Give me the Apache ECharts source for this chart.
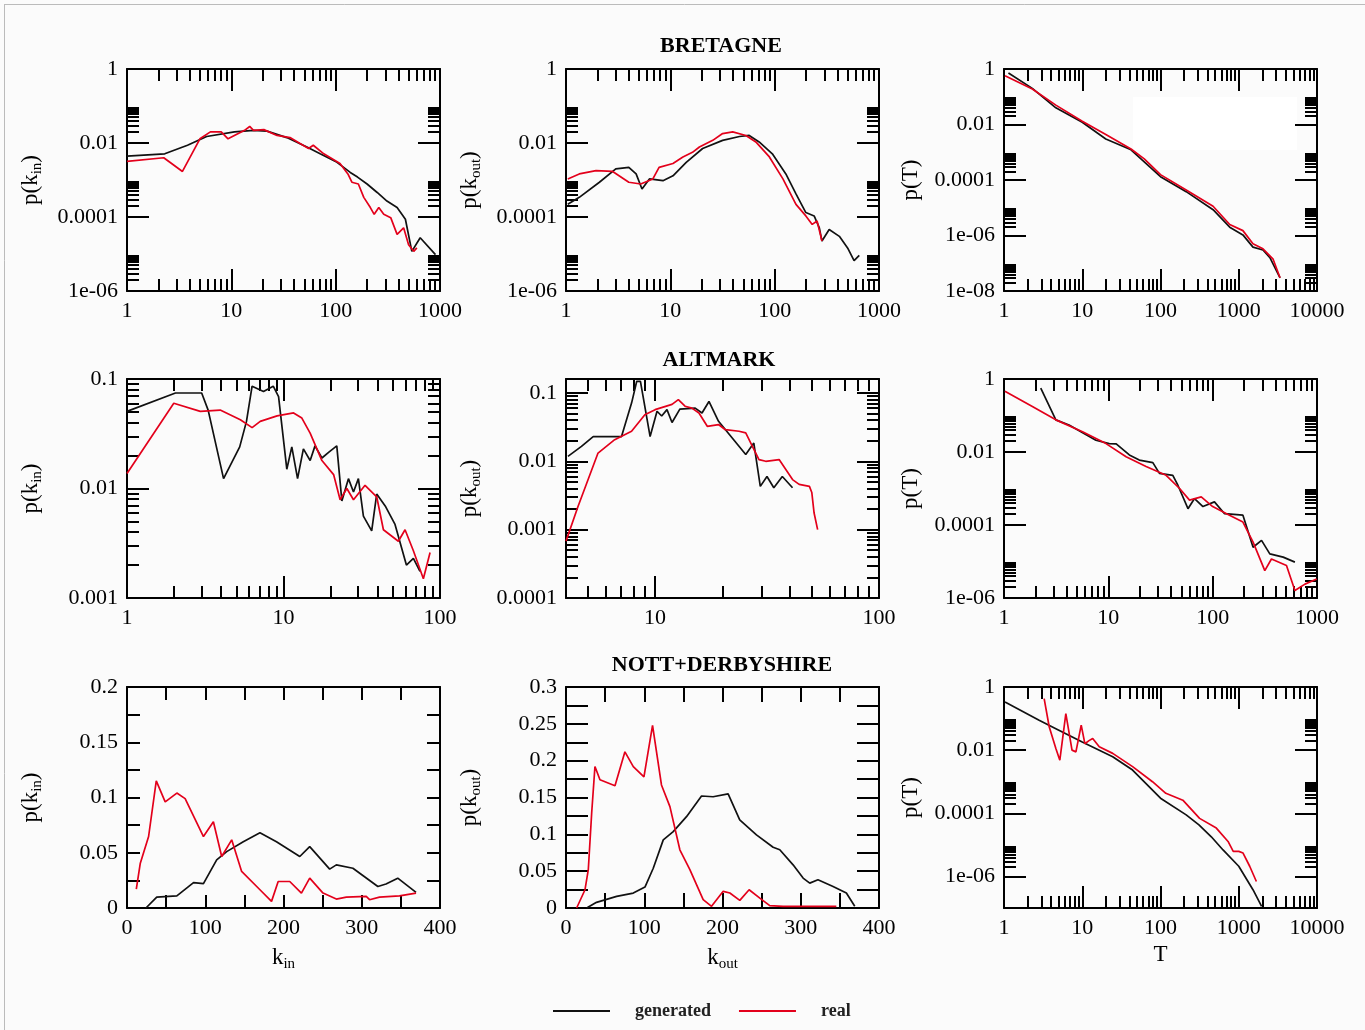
<!DOCTYPE html>
<html>
<head>
<meta charset="utf-8">
<script src="https://cdn.jsdelivr.net/npm/echarts@6/dist/echarts.min.js"></script>
<style>
html, body { margin: 0; padding: 0; background: #fbfbfb; }
#main { width: 1365px; height: 1030px; }
</style>
</head>
<body>
<div id="main"></div>
<script>
(function () {

    "use strict";

    var FONT = '"Liberation Serif", "DejaVu Serif", serif';
    var BLACK = '#111111', RED = '#e3001b';

    // ---- BRETAGNE ----
    var bretKinGen = [[1,0.0044],[2.3,0.0051],[3.8,0.0087],[5.8,0.015],[10.7,0.020],[16.3,0.022],[22,0.021],[34,0.014],[53,0.0078],[71,0.0051],[103,0.0030],[138,0.0016],[162,0.0012],[200,0.00078],[250,0.00046],[310,0.00027],[388,0.00018],[466,0.000087],[537,0.0000118],[646,0.0000275],[905,0.0000096]];
    var bretKinReal = [[1,0.0032],[2.25,0.0040],[3.4,0.0017],[5.0,0.013],[6.3,0.020],[8.0,0.020],[9.3,0.013],[13.4,0.022],[15,0.028],[16.3,0.022],[20.5,0.023],[27.4,0.016],[36.5,0.014],[46,0.0096],[55,0.0071],[61,0.0087],[77,0.0051],[110,0.0028],[131,0.00146],[143,0.00087],[165,0.00078],[186,0.00034],[215,0.00018],[234,0.000118],[259,0.00018],[289,0.000118],[337,0.000096],[388,0.000034],[448,0.000051],[500,0.0000178],[560,0.0000118],[600,0.0000146]];
    var bretKoutGen = [[1.04,0.00022],[1.34,0.00034],[2.09,0.00087],[3.0,0.0020],[4.0,0.0022],[4.7,0.00146],[5.35,0.00057],[6.3,0.00107],[8.5,0.00096],[10.6,0.0013],[14.2,0.0030],[20.4,0.0071],[31.7,0.0118],[46,0.015],[57,0.016],[71,0.0107],[95,0.0051],[128,0.00146],[160,0.00042],[199,0.000132],[239,0.000107],[268,0.000051],[284,0.0000224],[333,0.0000458],[417,0.000030],[500,0.0000146],[577,0.0000066],[647,0.0000092]];
    var bretKoutReal = [[1.04,0.00107],[1.34,0.00146],[1.94,0.0018],[2.8,0.0017],[4.0,0.00087],[5.2,0.00078],[6.8,0.00107],[7.8,0.0022],[10.6,0.0028],[13.2,0.0042],[16.3,0.0056],[19,0.0078],[25.5,0.0118],[31.7,0.018],[39.6,0.020],[53,0.016],[66,0.0107],[89,0.0042],[120,0.00107],[160,0.00022],[199,0.000107],[229,0.000063],[255,0.000078],[284,0.0000224]];
    var bretTGen = [[1.14,0.72],[2.3,0.20],[4.6,0.04],[10,0.012],[20,0.0030],[42,0.00123],[100,0.000132],[213,0.000038],[470,0.0000085],[767,0.000002],[1130,0.00000105],[1520,0.00000038],[2040,0.0000003],[2500,0.00000016],[3370,0.00000003]];
    var bretTReal = [[1.03,0.57],[2.3,0.19],[4.6,0.05],[10,0.0132],[20,0.0044],[42,0.00131],[62,0.00058],[100,0.000156],[213,0.0000436],[470,0.0000113],[767,0.0000025],[1130,0.0000015],[1520,0.0000005],[2040,0.00000033],[2750,0.00000014],[3370,0.00000003]];

    // ---- ALTMARK ----
    var altKinGen = [[1,0.0506],[2.04,0.0745],[3.0,0.0745],[3.3,0.052],[4.14,0.0123],[5.25,0.024],[5.8,0.041],[6.3,0.086],[7.45,0.077],[8.6,0.086],[9.3,0.069],[10.5,0.015],[11.3,0.024],[12.3,0.0123],[13.4,0.023],[14.8,0.018],[15.9,0.0245],[17.6,0.019],[19.5,0.0215],[21.9,0.0245],[23.6,0.0077],[26,0.0123],[28,0.0093],[30.1,0.0123],[32.4,0.0056],[36.6,0.0041],[39.4,0.0089],[45,0.0068],[51.6,0.0047],[61,0.0020],[67.6,0.0023],[74.5,0.00175]];
    var altKinReal = [[1,0.0137],[1.99,0.060],[2.94,0.0506],[3.94,0.052],[5.3,0.0425],[6.3,0.036],[7.1,0.041],[9.1,0.046],[11.6,0.049],[13.1,0.044],[14.8,0.032],[17.6,0.018],[20.9,0.0134],[23,0.0079],[25.4,0.010],[28,0.0079],[33.2,0.0107],[39.4,0.0084],[43.5,0.0042],[54.2,0.0033],[59.8,0.0042],[67.6,0.0027],[78.3,0.0015],[86.4,0.0026]];
    var altKoutGen = [[4.08,0.0118],[4.69,0.0165],[5.29,0.023],[7.08,0.023],[7.85,0.071],[8.28,0.148],[8.6,0.148],[9.5,0.023],[10.2,0.054],[10.7,0.046],[11.3,0.057],[11.9,0.037],[12.9,0.058],[15.1,0.060],[16.2,0.051],[17.4,0.075],[19.2,0.0385],[25.4,0.0126],[27.6,0.0185],[29.5,0.0043],[31.6,0.0060],[33.9,0.0041],[37,0.0060],[41.1,0.0041]];
    var altKoutReal = [[4.0,0.00068],[4.53,0.0022],[5.56,0.0132],[6.6,0.0207],[7.85,0.0275],[9.0,0.048],[10,0.057],[11.9,0.068],[12.7,0.080],[13.6,0.064],[14.6,0.060],[15.7,0.051],[17.1,0.0325],[19.2,0.0345],[20.6,0.029],[23.7,0.0275],[25.4,0.026],[27.2,0.0166],[29.1,0.0106],[31.2,0.0100],[35.8,0.0106],[41.1,0.0054],[44,0.0046],[48.9,0.0043],[50.1,0.0035],[51.3,0.00175],[53.2,0.001]];
    var altTGen = [[2.25,0.565],[3.14,0.076],[4.2,0.055],[5.46,0.036],[7.6,0.021],[10.2,0.017],[11.9,0.0166],[15.9,0.0083],[19.8,0.0060],[26.7,0.0051],[30.9,0.0026],[41.5,0.0023],[46.4,0.00123],[58,0.00028],[67,0.00053],[80.7,0.00032],[104,0.00043],[130,0.000204],[195,0.000186],[244,0.0000246],[294,0.000038],[353,0.0000162],[474,0.0000132],[614,0.0000096]];
    var altTReal = [[1.02,0.46],[1.87,0.177],[3.14,0.076],[5.66,0.036],[9.5,0.017],[14.8,0.0074],[23,0.0040],[35.8,0.0023],[48.2,0.001],[60,0.00048],[77.7,0.00059],[100,0.00032],[145,0.000186],[195,0.00012],[244,0.000034],[316,0.0000056],[366,0.0000117],[510,0.0000078],[614,0.0000016],[767,0.0000024],[993,0.0000033]];

    // ---- NOTT+DERBYSHIRE ----
    var nottKinGen = [[24.2,0],[38,0.0099],[63.7,0.011],[85,0.023],[97.7,0.022],[114.6,0.0436],[127.4,0.051],[148.6,0.060],[169.9,0.068],[191,0.060],[220.8,0.0466],[233.5,0.0556],[259,0.0352],[267.5,0.039],[288.7,0.036],[320.6,0.0195],[331,0.0217],[346,0.027],[369.4,0.0141]];
    var nottKinReal = [[11.9,0.0171],[17,0.0406],[27.6,0.0647],[37.4,0.115],[48.8,0.096],[63.7,0.104],[74.3,0.099],[97.7,0.0647],[110.4,0.078],[121,0.0466],[133.8,0.0617],[146.5,0.0331],[169.9,0.0165],[184.7,0.006],[193.2,0.024],[208,0.024],[222.9,0.0135],[233.5,0.027],[250.5,0.0135],[267.5,0.0081],[280.3,0.0099],[305.7,0.0105],[310,0.0075],[322.7,0.0099],[348.2,0.011],[369.4,0.0135]];
    var nottKoutGen = [[26.4,0],[39,0.0077],[64.7,0.0158],[86,0.0203],[100.9,0.0284],[111.5,0.054],[124.3,0.0925],[137,0.1037],[154,0.124],[173.2,0.152],[188,0.151],[207.2,0.155],[222,0.1195],[243.4,0.0992],[264.7,0.0825],[273.2,0.079],[290.2,0.0586],[303,0.0406],[311.5,0.0338],[322,0.0383],[341.3,0.0293],[358.3,0.0203],[369,0.0023]];
    var nottKoutReal = [[13.6,0],[24.3,0.0248],[28.5,0.052],[32.8,0.1286],[37,0.192],[43.4,0.174],[62.6,0.166],[75.3,0.212],[86,0.192],[99.6,0.178],[110.6,0.248],[122,0.167],[132.8,0.1376],[145.5,0.079],[158.3,0.052],[175.3,0.0113],[186,0.0023],[200.9,0.0226],[209.4,0.0203],[222.1,0.0104],[234,0.0248],[247.7,0.0135],[260.4,0.0032],[277.4,0.0023],[345.5,0.0023]];
    var nottTGen = [[1.03,0.336],[2.81,0.089],[4.6,0.048],[10,0.018],[24.5,0.0062],[44,0.00234],[100,0.0003],[213,0.000089],[310,0.0000427],[446,0.000018],[630,0.0000069],[1000,0.0000021],[1520,0.00000038],[1960,0.000000112]];
    var nottTReal = [[3.26,0.43],[3.78,0.055],[4.6,0.0113],[5.17,0.0048],[6.17,0.144],[7.4,0.010],[8.3,0.0088],[9.7,0.062],[10.8,0.016],[12.2,0.02],[13.6,0.0234],[16.5,0.0128],[24.5,0.0079],[44,0.0030],[79,0.001],[117,0.00043],[193,0.00026],[316,0.000069],[517,0.000034],[730,0.0000128],[850,0.0000062],[1000,0.0000062],[1135,0.0000055],[1380,0.0000021],[1680,0.00000069]];

    // ---- tick labels ----
    var xK3 = [1, 10, 100, 1000], xK3Text = ['1', '10', '100', '1000'];
    var xT4 = [1, 10, 100, 1000, 10000], xT4Text = ['1', '10', '100', '1000', '10000'];
    var xK2 = [1, 10, 100], xK2Text = ['1', '10', '100'];
    var xKout2 = [10, 100], xKout2Text = ['10', '100'];
    var yP6 = [1e-6, 1e-4, 0.01, 1], yP6Text = ['1e-06', '0.0001', '0.01', '1'];
    var yP8 = [1e-8, 1e-6, 1e-4, 0.01, 1], yP8Text = ['1e-08', '1e-06', '0.0001', '0.01', '1'];
    var yAltIn = [0.001, 0.01, 0.1], yAltInText = ['0.001', '0.01', '0.1'];
    var yAltOut = [0.0001, 0.001, 0.01, 0.1], yAltOutText = ['0.0001', '0.001', '0.01', '0.1'];
    var xLin = [0, 100, 200, 300, 400], xLinText = ['0', '100', '200', '300', '400'];
    var xLinTicks = [0, 50, 100, 150, 200, 250, 300, 350, 400];
    var yLin2 = [0, 0.05, 0.1, 0.15, 0.2], yLin2Text = ['0', '0.05', '0.1', '0.15', '0.2'];
    var yLin2Ticks = [0, 0.025, 0.05, 0.075, 0.1, 0.125, 0.15, 0.175, 0.2];
    var yLin3 = [0, 0.05, 0.1, 0.15, 0.2, 0.25, 0.3], yLin3Text = ['0', '0.05', '0.1', '0.15', '0.2', '0.25', '0.3'];
    var yLin3Ticks = [0, 0.025, 0.05, 0.075, 0.1, 0.125, 0.15, 0.175, 0.2, 0.225, 0.25, 0.275, 0.3];

    // minor log ticks 2..9 times each given decade
    function logMinor(decades) {
        var out = [];
        decades.forEach(function (d) {
            for (var k = 2; k <= 9; k++) out.push(+(k * d).toPrecision(4));
        });
        return out;
    }

    function fmt(vals, texts) {
        return function (v) {
            var best = 0, bd = Infinity;
            for (var i = 0; i < vals.length; i++) {
                var d = Math.abs(v - vals[i]) / Math.max(Math.abs(vals[i]), 1e-12);
                if (d < bd) { bd = d; best = i; }
            }
            return texts[best];
        };
    }

    var COL = [127, 566, 1004], ROW = [69, 379, 687];
    var W = 313, H = [222, 219, 221];

    var panels = [
        { c: 0, r: 0, yName: 'p(k{s|in})',
          x: { type: 'log', min: 1, max: 1000, labels: xK3, texts: xK3Text, minor: logMinor([1, 10, 100]) },
          y: { type: 'log', min: 1e-6, max: 1, labels: yP6, texts: yP6Text, minor: logMinor([1e-6, 1e-4, 1e-2]) },
          gen: bretKinGen, real: bretKinReal },
        { c: 1, r: 0, yName: 'p(k{s|out})',
          x: { type: 'log', min: 1, max: 1000, labels: xK3, texts: xK3Text, minor: logMinor([1, 10, 100]) },
          y: { type: 'log', min: 1e-6, max: 1, labels: yP6, texts: yP6Text, minor: logMinor([1e-6, 1e-4, 1e-2]) },
          gen: bretKoutGen, real: bretKoutReal },
        { c: 2, r: 0, yName: 'p(T)',
          x: { type: 'log', min: 1, max: 10000, labels: xT4, texts: xT4Text, minor: logMinor([1, 10, 100, 1000]) },
          y: { type: 'log', min: 1e-8, max: 1, labels: yP8, texts: yP8Text, minor: logMinor([1e-8, 1e-6, 1e-4, 1e-2]) },
          gen: bretTGen, real: bretTReal },
        { c: 0, r: 1, yName: 'p(k{s|in})',
          x: { type: 'log', min: 1, max: 100, labels: xK2, texts: xK2Text, minor: logMinor([1, 10]) },
          y: { type: 'log', min: 0.001, max: 0.1, labels: yAltIn, texts: yAltInText, minor: logMinor([0.001, 0.01]) },
          gen: altKinGen, real: altKinReal },
        { c: 1, r: 1, yName: 'p(k{s|out})',
          x: { type: 'log', min: 4, max: 100, labels: xKout2, texts: xKout2Text, minor: logMinor([1, 10]) },
          y: { type: 'log', min: 0.0001, max: 0.16, labels: yAltOut, texts: yAltOutText, minor: logMinor([0.0001, 0.001, 0.01]) },
          gen: altKoutGen, real: altKoutReal },
        { c: 2, r: 1, yName: 'p(T)',
          x: { type: 'log', min: 1, max: 1000, labels: xK3, texts: xK3Text, minor: logMinor([1, 10, 100]) },
          y: { type: 'log', min: 1e-6, max: 1, labels: yP6, texts: yP6Text, minor: logMinor([1e-6, 1e-4, 1e-2]) },
          gen: altTGen, real: altTReal },
        { c: 0, r: 2, yName: 'p(k{s|in})', xName: 'k{s|in}',
          x: { type: 'value', min: 0, max: 400, labels: xLin, texts: xLinText, ticks: xLinTicks, len: 13 },
          y: { type: 'value', min: 0, max: 0.2, labels: yLin2, texts: yLin2Text, ticks: yLin2Ticks, len: 13 },
          gen: nottKinGen, real: nottKinReal },
        { c: 1, r: 2, yName: 'p(k{s|out})', xName: 'k{s|out}',
          x: { type: 'value', min: 0, max: 400, labels: xLin, texts: xLinText, ticks: xLinTicks, len: 15 },
          y: { type: 'value', min: 0, max: 0.3, labels: yLin3, texts: yLin3Text, ticks: yLin3Ticks, len: 22 },
          gen: nottKoutGen, real: nottKoutReal },
        { c: 2, r: 2, yName: 'p(T)', xName: 'T',
          x: { type: 'log', min: 1, max: 10000, labels: xT4, texts: xT4Text, minor: logMinor([1, 10, 100, 1000]) },
          y: { type: 'log', min: 1e-7, max: 1, labels: yP6, texts: yP6Text, minor: logMinor([1e-6, 1e-4, 1e-2]) },
          gen: nottTGen, real: nottTReal }
    ];

    var nameStyle = {
        fontFamily: FONT, fontSize: 23, color: '#000',
        rich: { s: { fontFamily: FONT, fontSize: 15, color: '#000', padding: [14, 0, 0, 0], verticalAlign: 'bottom' } }
    };

    function mainAxis(a, gi, pos, withLabel, name, isY) {
        var o = {
            type: a.type, gridIndex: gi, position: pos, min: a.min, max: a.max,
            axisLine: { show: true, onZero: false, lineStyle: { color: '#000', width: 2 } },
            axisTick: { show: true, inside: true, length: a.len || 22, customValues: a.ticks || a.labels,
                lineStyle: { color: '#000', width: 2 } },
            axisLabel: { show: withLabel, customValues: a.labels, formatter: fmt(a.labels, a.texts),
                fontFamily: FONT, fontSize: 22, color: '#000', margin: 9 },
            splitLine: { show: false },
            minorTick: { show: false }
        };
        if (a.type === 'log') o.logBase = 10;
        if (name) {
            o.name = name;
            o.nameLocation = 'middle';
            o.nameTextStyle = nameStyle;
            if (isY) { o.nameRotate = 90; o.nameGap = 82; }
            else { o.nameGap = 35; }
        }
        return o;
    }

    function minorAxis(a, gi, pos) {
        var o = {
            type: a.type, gridIndex: gi, position: pos, min: a.min, max: a.max,
            axisLine: { show: false },
            axisTick: { show: !!a.minor, inside: true, length: 12, customValues: a.minor || [],
                lineStyle: { color: '#000', width: 2 } },
            axisLabel: { show: false },
            splitLine: { show: false }
        };
        if (a.type === 'log') o.logBase = 10;
        return o;
    }

    var grids = [], xAxes = [], yAxes = [], series = [];

    panels.forEach(function (p) {
        var rect = { left: COL[p.c], top: ROW[p.r], width: W, height: H[p.r], outerBoundsMode: 'none' };
        var gMain = grids.length;
        grids.push(rect);
        var gMinor = grids.length;
        grids.push(Object.assign({}, rect));

        var xi = xAxes.length;
        xAxes.push(mainAxis(p.x, gMain, 'bottom', true, p.xName, false));
        xAxes.push(mainAxis(p.x, gMain, 'top', false));
        xAxes.push(minorAxis(p.x, gMinor, 'bottom'));
        xAxes.push(minorAxis(p.x, gMinor, 'top'));

        var yi = yAxes.length;
        yAxes.push(mainAxis(p.y, gMain, 'left', true, p.yName, true));
        yAxes.push(mainAxis(p.y, gMain, 'right', false));
        yAxes.push(minorAxis(p.y, gMinor, 'left'));
        yAxes.push(minorAxis(p.y, gMinor, 'right'));

        series.push({
            name: 'generated', type: 'line', xAxisIndex: xi, yAxisIndex: yi,
            data: p.gen, showSymbol: false, symbol: 'none', z: 3,
            lineStyle: { color: BLACK, width: 1.7 }, itemStyle: { color: BLACK }
        });
        series.push({
            name: 'real', type: 'line', xAxisIndex: xi, yAxisIndex: yi,
            data: p.real, showSymbol: false, symbol: 'none', z: 4,
            lineStyle: { color: RED, width: 1.7 }, itemStyle: { color: RED }
        });
    });

    var titleStyle = { fontFamily: FONT, fontWeight: 'bold', fontSize: 22, color: '#000' };

    var option = {
        backgroundColor: '#fbfbfb',
        animation: false,
        title: [
            { text: 'BRETAGNE', left: 716, top: 30, textAlign: 'center', textStyle: titleStyle },
            { text: 'ALTMARK', left: 714, top: 344, textAlign: 'center', textStyle: titleStyle },
            { text: 'NOTT+DERBYSHIRE', left: 717, top: 649, textAlign: 'center', textStyle: titleStyle }
        ],
        legend: {
            data: ['generated', 'real'],
            left: 548, top: 997,
            icon: 'rect', itemWidth: 57, itemHeight: 2, itemGap: 28,
            textStyle: { fontFamily: FONT, fontWeight: 'bold', fontSize: 18, color: '#222', padding: [0, 0, 0, 20] }
        },
        graphic: [
            { type: 'line', shape: { x1: 4.5, y1: 4, x2: 4.5, y2: 1030 }, style: { stroke: '#bbbbbb', lineWidth: 1 } },
            { type: 'line', shape: { x1: 4, y1: 4.5, x2: 1365, y2: 4.5 }, style: { stroke: '#bbbbbb', lineWidth: 1 } },
            { type: 'rect', shape: { x: 1133, y: 97, width: 164, height: 53 }, style: { fill: '#ffffff' }, z: 0 }
        ],
        grid: grids,
        xAxis: xAxes,
        yAxis: yAxes,
        series: series
    };

    var chart = echarts.init(document.getElementById('main'));
    chart.setOption(option);

})();
</script>
</body>
</html>
